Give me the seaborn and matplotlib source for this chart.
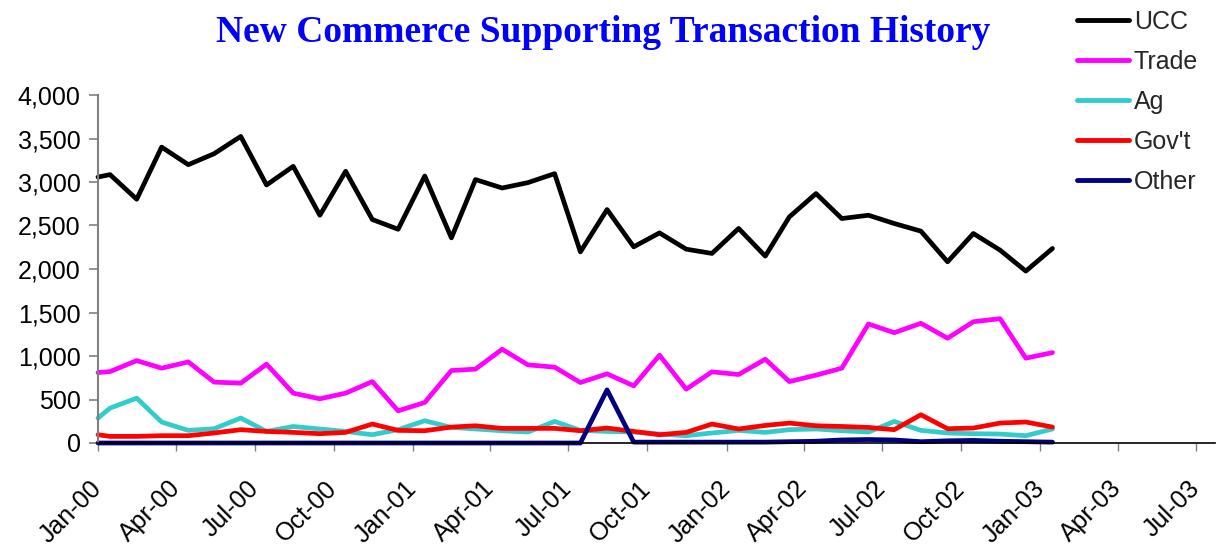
import matplotlib
matplotlib.use("Agg")
import matplotlib.pyplot as plt
import matplotlib.dates as mdates
from matplotlib.ticker import FuncFormatter, FixedLocator
from matplotlib.lines import Line2D
import seaborn as sns
import pandas as pd

dates = ["2000-01-01", "2000-01-15", "2000-02-15", "2000-03-15", "2000-04-15", "2000-05-15",
         "2000-06-15", "2000-07-15", "2000-08-15", "2000-09-15", "2000-10-15", "2000-11-15",
         "2000-12-15", "2001-01-15", "2001-02-15", "2001-03-15", "2001-04-15", "2001-05-15",
         "2001-06-15", "2001-07-15", "2001-08-15", "2001-09-15", "2001-10-15", "2001-11-15",
         "2001-12-15", "2002-01-15", "2002-02-15", "2002-03-15", "2002-04-15", "2002-05-15",
         "2002-06-15", "2002-07-15", "2002-08-15", "2002-09-15", "2002-10-15", "2002-11-15",
         "2002-12-15", "2003-01-15"]

ucc = [3057, 3085, 2802, 3401, 3199, 3325, 3524, 2966, 3180, 2618, 3123, 2569,
       2457, 3069, 2358, 3028, 2931, 2993, 3096, 2197, 2683, 2255, 2415, 2228,
       2179, 2466, 2148, 2599, 2867, 2580, 2618, 2523, 2435, 2083, 2408, 2217,
       1976, 2236]
trade = [810, 821, 947, 860, 932, 700, 688, 906, 573, 508, 573, 706,
         370, 466, 833, 849, 1078, 898, 872, 695, 795, 657, 1009, 619,
         818, 787, 963, 706, 780, 860, 1368, 1268, 1376, 1204, 1394, 1429,
         975, 1039]
ag = [287, 401, 516, 241, 145, 164, 287, 133, 190, 161, 133, 95,
      153, 256, 179, 161, 141, 126, 248, 145, 133, 126, 103, 84,
      115, 145, 122, 153, 161, 141, 126, 248, 145, 115, 107, 103,
      84, 161]
govt = [95, 76, 76, 84, 84, 115, 153, 133, 122, 107, 122, 218,
        145, 141, 183, 198, 168, 168, 168, 141, 172, 133, 95, 122,
        218, 161, 202, 229, 198, 190, 179, 153, 325, 164, 172, 229,
        241, 183]
other = [0, 0, 0, 0, 0, 0, 0, 0, 0, 0, 0, 0,
         0, 0, 0, 0, 0, 0, 0, 0, 611, 10, 10, 10,
         10, 10, 10, 15, 20, 35, 40, 35, 15, 25, 30, 20,
         15, 10]

series_names = ["UCC", "Trade", "Ag", "Gov't", "Other"]
series_colors = ["#000000", "#FF00FF", "#33CCCC", "#FF0000", "#000080"]
tick_dates = ["2000-01-01", "2000-04-01", "2000-07-01", "2000-10-01",
              "2001-01-01", "2001-04-01", "2001-07-01", "2001-10-01",
              "2002-01-01", "2002-04-01", "2002-07-01", "2002-10-01",
              "2003-01-01", "2003-04-01", "2003-07-01"]
y_ticks = [0, 500, 1000, 1500, 2000, 2500, 3000, 3500, 4000]
title_text = "New Commerce Supporting Transaction History"

sns.set_theme(style="white")
plt.rcParams['font.family'] = ['Liberation Sans', 'DejaVu Sans']

df = pd.DataFrame({"Date": pd.to_datetime(dates), "UCC": ucc, "Trade": trade,
                   "Ag": ag, "Gov't": govt, "Other": other})
long_df = df.melt(id_vars="Date", var_name="Series", value_name="Value")
palette = dict(zip(series_names, series_colors))

W, H = 1217, 546
fig = plt.figure(figsize=(W / 100, H / 100), dpi=100)
ax = fig.add_axes([98 / W, 1 - 443 / H, (1215 - 98) / W, (443 - 95) / H])

sns.lineplot(data=long_df, x="Date", y="Value", hue="Series", hue_order=series_names,
             palette=palette, linewidth=3.4, ax=ax, legend=False, clip_on=False)

ax.set_xlim(mdates.date2num(pd.Timestamp("2000-01-01")),
            mdates.date2num(pd.Timestamp("2003-07-23")))
ax.set_ylim(0, 4000)
ax.xaxis.set_major_locator(FixedLocator(mdates.date2num(pd.to_datetime(tick_dates))))
ax.xaxis.set_major_formatter(mdates.DateFormatter("%b-%y"))
ax.yaxis.set_major_locator(FixedLocator(y_ticks))
ax.yaxis.set_major_formatter(FuncFormatter(lambda v, p: f"{v:,.0f}"))
ax.set_xlabel("")
ax.set_ylabel("")

for s in ["top", "right"]:
    ax.spines[s].set_visible(False)
ax.spines["left"].set_color("#808080")
ax.spines["left"].set_linewidth(1.5)
ax.spines["bottom"].set_color("#000000")
ax.spines["bottom"].set_linewidth(1.2)

ax.tick_params(axis="y", direction="out", length=6.5, width=1.2, color="#808080",
               labelsize=18, pad=6, left=True, labelcolor="#000000")
ax.tick_params(axis="x", direction="out", length=6, width=1.0, color="#808080",
               labelsize=18, pad=24, bottom=True, labelcolor="#000000")
for lbl in ax.get_xticklabels():
    lbl.set_rotation(45)
    lbl.set_ha("right")
    lbl.set_va("center")
    lbl.set_rotation_mode("anchor")

fig.text(603 / W, 1 - 42 / H, title_text, ha="center", va="baseline",
         family=["Liberation Serif", "DejaVu Serif"], fontweight="bold",
         fontsize=27, color="#0000FF")

handles = [Line2D([0], [0], color=c, lw=3.5) for c in series_colors]
fig.legend(handles, series_names, loc="upper left", bbox_to_anchor=(1067 / W, 1.0),
           frameon=False, fontsize=18, handlelength=2.08, handletextpad=0.2,
           labelspacing=0.64, borderaxespad=0)

fig.savefig("out.png", dpi=100)
